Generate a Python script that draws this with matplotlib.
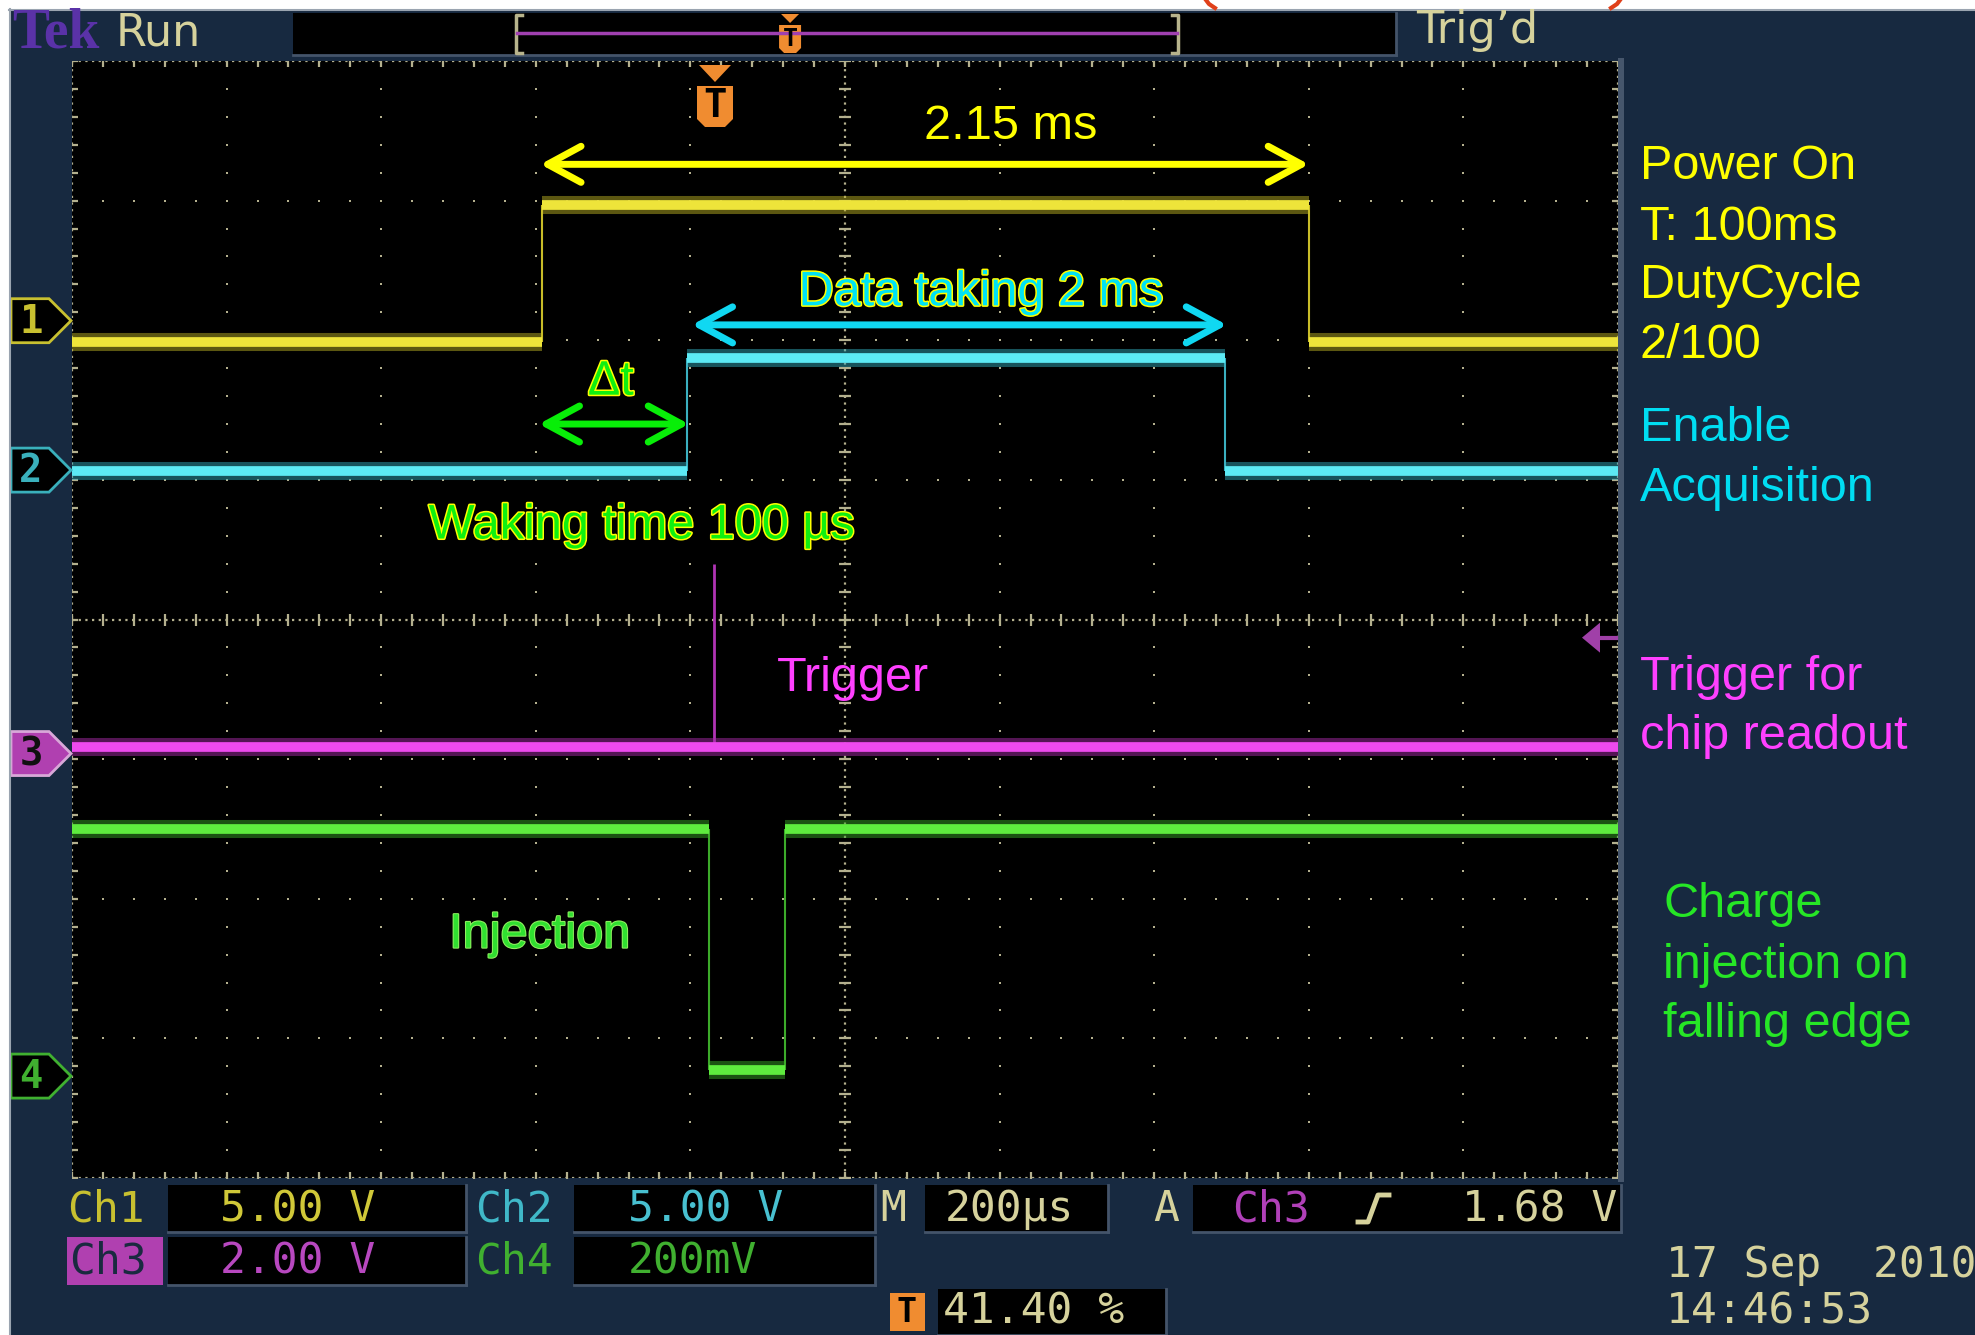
import numpy as np
import matplotlib.pyplot as plt
from matplotlib.patches import Polygon, Rectangle
import matplotlib.patheffects as pe

W, H = 1975, 1335

# Horizontal setup: 200 us/div, trigger at 41.40 % of the record
us_per_div = 200
trig_pct = 41.40
n_div_x, n_div_y = 10, 8

# Traces: edge times (us from trigger) and levels (screen divisions)
ch1_edges = [-220, 772]
ch1_levels = [5.99, 6.97, 5.99]
ch2_edges = [-32, 664]
ch2_levels = [5.06, 5.87, 5.06]
ch3_edges = []
ch3_levels = [3.09]
ch3_spike_t = 2
ch3_spike_top = 4.40
ch4_edges = [-4, 95]
ch4_levels = [2.50, 0.77, 2.50]

# Ground markers (div) and trigger level (div)
marker_levels = [6.14, 5.07, 3.04, 0.73]
trig_level = 3.87

# Annotation arrows: (start us, end us, y div)
arrow_power = (-222, 772, 7.26)
arrow_data = (-26, 666, 6.11)
arrow_wake = (-224, -30, 5.40)

# Status bar readouts
ch_scales = ["5.00 V", "5.00 V", "2.00 V", "200mV"]
timebase = "200µs"
trig_src, trig_volt = "Ch3", "1.68 V"
trig_pos_txt = "41.40 %"
date_txt, time_txt = "17 Sep  2010", "14:46:53"

NAVY = '#172940'
KHAKI = '#D6D29C'
GRID = '#B4B08E'
ANN = ['Liberation Sans', 'DejaVu Sans']
MONO = 'DejaVu Sans Mono'

xmin = -trig_pct / 100 * n_div_x * us_per_div
xmax = xmin + n_div_x * us_per_div

fig = plt.figure(figsize=(W / 100, H / 100), dpi=100)
fig.patch.set_facecolor(NAVY)

# graticule axes
gl, gr, gt, gb = 72, 1618, 61, 1178
ax = fig.add_axes([gl / W, 1 - gb / H, (gr - gl) / W, (gb - gt) / H])
ax.set_facecolor('black')
ax.set_xlim(xmin, xmax)
ax.set_ylim(0, n_div_y)
ax.set_xticks([])
ax.set_yticks([])
for s in ax.spines.values():
    s.set_visible(False)

# graticule dots
fine_x = xmin + us_per_div * np.arange(0, n_div_x + 0.01, 0.2)
fine_y = np.arange(0, n_div_y + 0.01, 0.2)
major_x = xmin + us_per_div * np.arange(n_div_x + 1)
major_y = np.arange(n_div_y + 1)
X, Y = np.meshgrid(major_x, fine_y)
ax.scatter(X.ravel(), Y.ravel(), s=4, c=GRID, marker='s', lw=0, zorder=1)
X, Y = np.meshgrid(fine_x, major_y)
ax.scatter(X.ravel(), Y.ravel(), s=4, c=GRID, marker='s', lw=0, zorder=1)

xc = xmin + n_div_x / 2 * us_per_div
for xv in [xmin, xc, xmax]:
    ax.axvline(xv, ls=(0, (1, 2)), lw=1.6, color=GRID, zorder=1)
    ax.plot(np.full_like(fine_y, xv), fine_y, ls='none', marker='_',
            ms=8, mew=1.6, color=GRID, zorder=1)
for yv in [0, n_div_y / 2, n_div_y]:
    ax.axhline(yv, ls=(0, (1, 2)), lw=1.6, color=GRID, zorder=1)
    ax.plot(fine_x, np.full_like(fine_x, yv), ls='none', marker='|',
            ms=8, mew=1.6, color=GRID, zorder=1)


def draw_steps(edges, levels, core, halo, edge_col):
    xs = np.concatenate([[xmin], edges, [xmax]])
    ax.hlines(levels, xs[:-1], xs[1:], colors=halo, lw=13, alpha=0.5,
              capstyle='butt', zorder=3)
    ax.hlines(levels, xs[:-1], xs[1:], colors=core, lw=7,
              capstyle='butt', zorder=4)
    if len(edges):
        ax.vlines(edges, levels[:-1], levels[1:], colors=edge_col, lw=1.5,
                  zorder=3)


draw_steps(ch1_edges, ch1_levels, '#EEE43A', '#B8AE22', '#C8BC28')
draw_steps(ch2_edges, ch2_levels, '#5CEAF4', '#2FA6B6', '#3AB0C0')
ax.vlines([ch3_spike_t], ch3_levels[0], ch3_spike_top, colors='#B034B4',
          lw=2, zorder=3)
draw_steps(ch3_edges, ch3_levels, '#EE4AEE', '#A82AA8', '#B034B4')
draw_steps(ch4_edges, ch4_levels, '#5EEC3E', '#36A424', '#3CAA2A')


def double_arrow(spec, color):
    a, b, y = spec
    ax.annotate('', xy=(b, y), xytext=(a, y), zorder=6,
                arrowprops=dict(arrowstyle='<->,head_length=2.4,head_width=1.3',
                                color=color, lw=5, shrinkA=0, shrinkB=0,
                                capstyle='round', joinstyle='round'))


double_arrow(arrow_power, '#FFFF00')
double_arrow(arrow_data, '#10D8F2')
double_arrow(arrow_wake, '#08EE08')

outline = [pe.Stroke(linewidth=2.2, foreground='#FFFF00'), pe.Normal()]
ax.text(386, 7.44, "2.15 ms", color='#FFFF00', fontsize=35, family=ANN,
        ha='center', va='baseline', zorder=7)
ax.text(348, 6.25, "Data taking 2 ms", color='#00E2F4', fontsize=35,
        family=ANN, ha='center', va='baseline', zorder=7, path_effects=outline)
ax.text(-131, 5.61, "Δt", color='#10F010', fontsize=35, family=ANN,
        ha='center', va='baseline', zorder=7, path_effects=outline)
ax.text(-91, 4.58, "Waking time 100 µs", color='#10F010', fontsize=35,
        family=ANN, ha='center', va='baseline', zorder=7, path_effects=outline)
ax.text(182, 3.49, "Trigger", color='#FF40FF', fontsize=35, family=ANN,
        ha='center', va='baseline', zorder=7)
ax.text(-223, 1.65, "Injection", color='#30E030', fontsize=35, family=ANN,
        ha='center', va='baseline', zorder=7,
        path_effects=[pe.Stroke(linewidth=1.5, foreground='#90F060'), pe.Normal()])

# overlay in pixel coordinates
ov = fig.add_axes([0, 0, 1, 1], zorder=5)
ov.set_xlim(0, W)
ov.set_ylim(H, 0)
ov.axis('off')
ov.patch.set_alpha(0)

# white borders of the screenshot and red marks at top
ov.add_patch(Rectangle((0, 0), W, 9, fc='white', ec='none'))
ov.add_patch(Rectangle((0, 0), 9, H, fc='white', ec='none'))
ov.plot([9, W], [9.5, 9.5], color='#9AA4B0', lw=1.5)
ov.plot([9.5, 9.5], [9, H], color='#9AA4B0', lw=1.5)
ov.plot([1206, 1209, 1215], [0, 4, 8], color='#E0401A', lw=3)
ov.plot([1620, 1617, 1611], [0, 4, 8], color='#E0401A', lw=3)

# graticule right edge bar
ov.add_patch(Rectangle((1618, 58), 6, 1124, fc='#46566C', ec='none'))

# top bar
ov.text(12, 34, "Tek", color='#5A32A8', fontsize=40, fontweight='bold',
        family=['Liberation Serif', 'DejaVu Serif'], ha='left', va='center')
ov.text(116, 33, "Run", color=KHAKI, fontsize=32, family='DejaVu Sans',
        ha='left', va='center')
ov.add_patch(Rectangle((293, 13), 1103, 42, fc='black', ec='none'))
ov.plot([293, 1396], [55, 55], color='#44546A', lw=2)
ov.plot([1396, 1396], [13, 55], color='#44546A', lw=2)
ov.plot([522, 516, 516, 522], [15, 15, 53, 53], color='#B8B48C', lw=2.5)
ov.plot([1172, 1178, 1178, 1172], [15, 15, 53, 53], color='#B8B48C', lw=2.5)
ov.plot([517, 1177], [33, 33], color='#A040B0', lw=2.5)
trig_px = 516 + (1178 - 516) * trig_pct / 100
ov.add_patch(Polygon([[trig_px - 9, 14], [trig_px + 9, 14], [trig_px, 23]],
                     fc='#F08C30', ec='none'))
ov.add_patch(Polygon([[trig_px - 11, 25], [trig_px + 11, 25], [trig_px + 11, 48],
                      [trig_px + 6, 53], [trig_px - 6, 53], [trig_px - 11, 48]],
                     fc='#F08C30', ec='none'))
ov.text(trig_px, 39, "T", color='black', fontsize=18, fontweight='bold',
        family=MONO, ha='center', va='center')
ov.text(1416, 31, "Trig’d", color=KHAKI, fontsize=32, family='DejaVu Sans',
        ha='left', va='center')

# trigger position marker on the graticule
tp = 715
ov.add_patch(Polygon([[tp - 16, 65], [tp + 16, 65], [tp, 82]],
                     fc='#F08C30', ec='none'))
ov.add_patch(Polygon([[tp - 18, 86], [tp + 18, 86], [tp + 18, 119],
                      [tp + 10, 127], [tp - 10, 127], [tp - 18, 119]],
                     fc='#F08C30', ec='none'))
ov.text(tp, 106, "T", color='black', fontsize=28, fontweight='bold',
        family=MONO, ha='center', va='center')


# channel ground markers on the left
def div_to_px(yd):
    return gb - yd * (gb - gt) / n_div_y


mk_styles = [('black', '#C8C030', '#C8C030'),
             ('black', '#3AB0BC', '#3AB0BC'),
             ('#B040B0', '#D8A8D8', '#101010'),
             ('black', '#40B030', '#40B030')]
for i, (yd, (fc, ec, tc)) in enumerate(zip(marker_levels, mk_styles)):
    c = div_to_px(yd)
    ov.add_patch(Polygon([[11, c - 22], [49, c - 22], [71, c], [49, c + 22],
                          [11, c + 22]], fc=fc, ec=ec, lw=2))
    ov.text(31, c + 1, str(i + 1), color=tc, fontsize=28, fontweight='bold',
            family=MONO, ha='center', va='center')

# trigger level arrow on the right
c = div_to_px(trig_level)
ov.add_patch(Polygon([[1582, c], [1600, c - 15], [1600, c + 15]],
                     fc='#A040A8', ec='none'))
ov.plot([1600, 1616], [c, c], color='#A040A8', lw=3)

# right-hand labels
side = [("Power On", 1640, 179, '#FFFF00'), ("T: 100ms", 1640, 240, '#FFFF00'),
        ("DutyCycle", 1640, 298, '#FFFF00'), ("2/100", 1640, 358, '#FFFF00'),
        ("Enable", 1640, 441, '#00DDF2'), ("Acquisition", 1640, 501, '#00DDF2'),
        ("Trigger for", 1640, 690, '#FF40FF'), ("chip readout", 1640, 749, '#FF40FF'),
        ("Charge", 1663, 917, '#26E626'), ("injection on", 1663, 978, '#26E626'),
        ("falling edge", 1663, 1037, '#26E626')]
for txt, x, y, col in side:
    ov.text(x, y, txt, color=col, fontsize=35, family=ANN, ha='left',
            va='baseline')


# bottom status readouts
def box(x0, x1, y0, y1, fc='black'):
    ov.add_patch(Rectangle((x0, y0), x1 - x0, y1 - y0, fc=fc, ec='none'))
    if fc == 'black':
        ov.plot([x0, x1], [y1, y1], color='#44546A', lw=2)
        ov.plot([x1, x1], [y0, y1], color='#44546A', lw=2)


r1, r2, r3 = (1185, 1232), (1237, 1285), (1289, 1335)
box(168, 466, *r1)
box(574, 875, *r1)
box(925, 1108, *r1)
box(1193, 1621, *r1)
box(168, 466, *r2)
box(574, 875, *r2)
box(67, 163, *r2, fc='#B040B0')
box(938, 1166, *r3)

fs = 31
y1, y2, y3 = 1209, 1261, 1312
ov.text(67, y1, "Ch1", color='#C8C030', fontsize=fs, family=MONO, va='center')
ov.text(220, y1, ch_scales[0], color='#D0C838', fontsize=fs, family=MONO, va='center')
ov.text(475, y1, "Ch2", color='#40B8C8', fontsize=fs, family=MONO, va='center')
ov.text(628, y1, ch_scales[1], color='#48C0D0', fontsize=fs, family=MONO, va='center')
ov.text(880, y1, "M", color=KHAKI, fontsize=fs, family=MONO, va='center')
ov.text(945, y1, timebase, color=KHAKI, fontsize=fs, family=MONO, va='center')
ov.text(1153, y1, "A", color=KHAKI, fontsize=fs, family=MONO, va='center')
ov.text(1232, y1, trig_src, color='#B040B8', fontsize=fs, family=MONO, va='center')
ov.plot([1358, 1368, 1378, 1389], [1222, 1222, 1195, 1195], color=KHAKI, lw=3.5)
ov.text(1617, y1, trig_volt, color=KHAKI, fontsize=fs, family=MONO,
        ha='right', va='center')
ov.text(69, y2, "Ch3", color='#1A2A40', fontsize=fs, family=MONO, va='center')
ov.text(220, y2, ch_scales[2], color='#B848C0', fontsize=fs, family=MONO, va='center')
ov.text(475, y2, "Ch4", color='#40B030', fontsize=fs, family=MONO, va='center')
ov.text(628, y2, ch_scales[3], color='#40B030', fontsize=fs, family=MONO, va='center')
ov.add_patch(Rectangle((890, 1293), 35, 38, fc='#F08C30', ec='none'))
ov.text(907, 1312, "T", color='black', fontsize=24, fontweight='bold',
        family=MONO, ha='center', va='center')
ov.text(943, y3, trig_pos_txt, color=KHAKI, fontsize=fs, family=MONO, va='center')
ov.text(1666, 1265, date_txt, color=KHAKI, fontsize=fs, family=MONO, va='center')
ov.text(1666, y3, time_txt, color=KHAKI, fontsize=fs, family=MONO, va='center')

fig.savefig('out.png', dpi=100, facecolor=fig.get_facecolor())
